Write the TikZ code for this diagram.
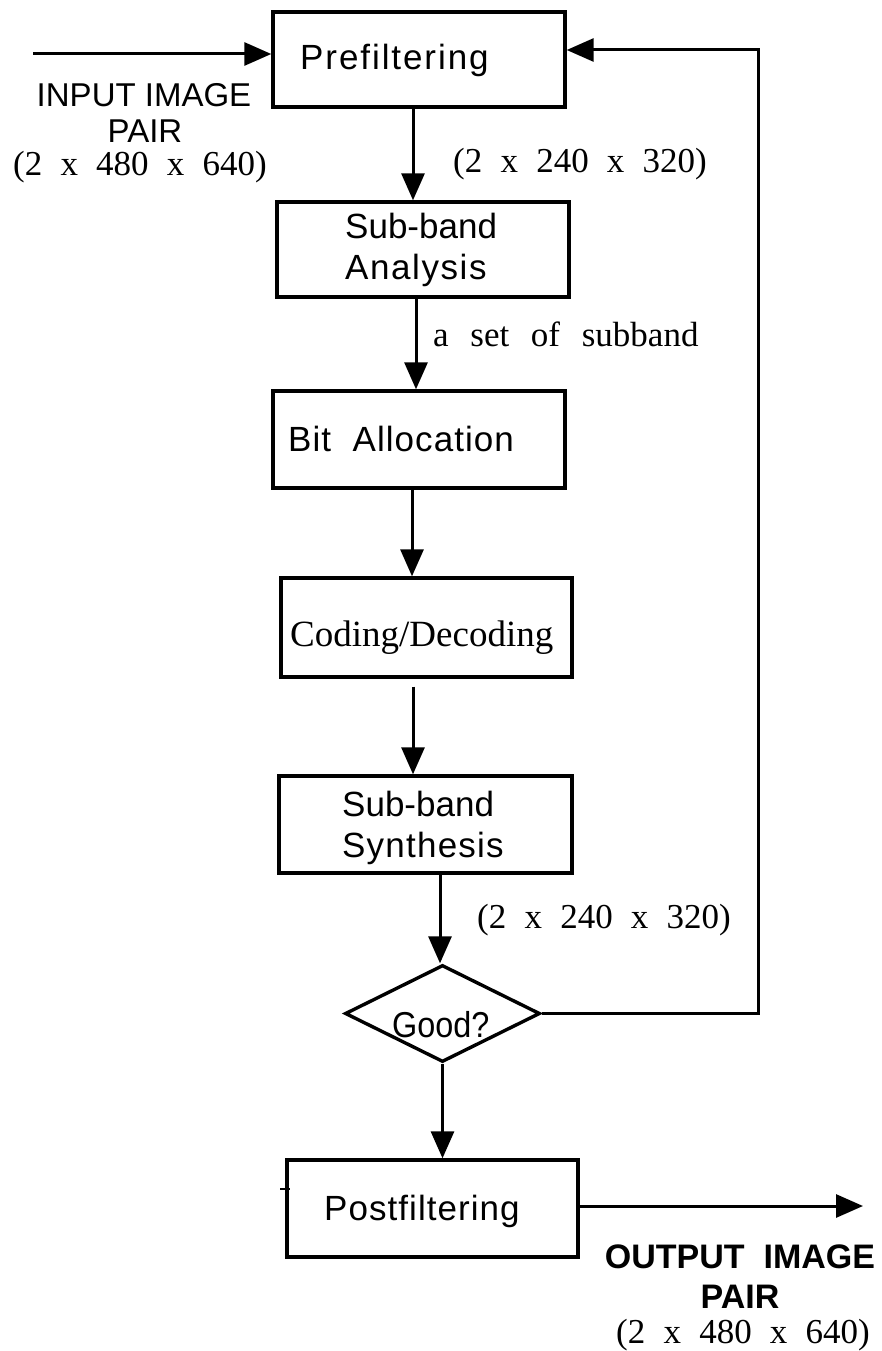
\documentclass[tikz,border=0pt]{standalone}
\usepackage{fontspec}
\setmainfont{Liberation Serif}
\setsansfont{Liberation Sans}
\newfontfamily\narrowsans{Liberation Sans}[FakeStretch=0.9]
\usetikzlibrary{arrows.meta,shapes.geometric}

% image size triple with the wide spacing used in the figure
\newcommand\dimtriple[3]{(#1\hspace{0.52em}x\hspace{0.52em}#2\hspace{0.52em}x\hspace{0.52em}#3)}
% spaced sans text: size, letter spacing
\newcommand\spacedsans[2]{\sffamily\fontsize{#1}{#1}\selectfont\addfontfeatures{LetterSpace=#2}}

\begin{document}
\begin{tikzpicture}[x=1pt,y=-1pt,
  blk/.style={draw, line width=3.4pt, rectangle, inner sep=0pt},
  dec/.style={draw, line width=3.4pt, diamond, inner sep=0pt},
  flow/.style={line width=3pt, -{Triangle[length=27pt,width=23pt]}},
  lab/.style={inner sep=0pt, anchor=base west},
  serifdim/.style={inner sep=0pt, font=\rmfamily\fontsize{35}{35}\selectfont},
  sidelab/.style={inner sep=0pt, anchor=base, font=\sffamily\fontsize{33}{33}\selectfont},
]
\useasboundingbox[fill=white] (0,0) rectangle (882,1351);

% blocks
\node[blk, minimum width=292pt, minimum height=95pt] (pre) at (419,59.5) {};
\node[blk, minimum width=292pt, minimum height=95pt] (ana) at (423,249.5) {};
\node[blk, minimum width=292pt, minimum height=97pt] (bit) at (419,439.5) {};
\node[blk, minimum width=291pt, minimum height=99pt] (cod) at (426.5,627.5) {};
\node[blk, minimum width=293pt, minimum height=97pt] (syn) at (425.5,824.5) {};
\node[dec, minimum width=195pt, minimum height=97pt] (good) at (442.5,1013.5) {};
\node[blk, minimum width=291pt, minimum height=97pt] (post) at (432.5,1208.5) {};

% block texts
\node[lab, font=\spacedsans{35}{5.5}] (tpre) at (300,70) {Prefiltering};
\node[lab, font=\spacedsans{35}{0}] (tana1) at (345,238) {Sub-band};
\node[lab, font=\spacedsans{35}{4.5}] (tana2) at (345,279) {Analysis};
\node[lab, font=\spacedsans{35}{3}] (tbit) at (288,451) {Bit\ \ Allocation};
\node[lab, font=\rmfamily\fontsize{37}{37}\selectfont] (tcod) at (290,646) {Coding/Decoding};
\node[lab, font=\spacedsans{35}{0}] (tsyn1) at (342,816) {Sub-band};
\node[lab, font=\spacedsans{35}{3.5}] (tsyn2) at (342,857) {Synthesis};
\node[lab, font=\narrowsans\fontsize{36}{36}\selectfont] (tgood) at (392,1037) {Good?};
\node[lab, font=\spacedsans{35}{3}] (tpost) at (324,1220) {Postfiltering};

% input side
\coordinate (inp) at (33,54);
\draw[flow] (inp) -- (inp -| pre.west);
\node[sidelab] (in1) at (144,107) {INPUT IMAGE};
\node[sidelab] (in2) at (145,143) {PAIR};
\node[serifdim, anchor=base] (in3) at (140,176) {\dimtriple{2}{480}{640}};

% main chain
\draw[flow] ([xshift=-6pt]pre.south) -- ([xshift=-6pt]pre.south |- ana.north);
\node[serifdim, anchor=base west] (d1) at (453,173) {\dimtriple{2}{240}{320}};
\draw[flow] ([xshift=-7pt]ana.south) -- ([xshift=-7pt]ana.south |- bit.north);
\node[lab, font=\rmfamily\fontsize{35}{35}\selectfont] (d2) at (433,346)
  {a\hspace{0.62em}set\hspace{0.62em}of\hspace{0.62em}subband};
\draw[flow] ([xshift=-7pt]bit.south) -- ([xshift=-7pt]bit.south |- cod.north);
\draw[flow] ([xshift=-13.5pt,yshift=-8pt]cod.south) -- ([xshift=-13.5pt]cod.south |- syn.north);
\draw[flow] ([xshift=14.5pt]syn.south) -- ([xshift=14.5pt]syn.south |- good.north);
\node[serifdim, anchor=base west] (d3) at (477,928) {\dimtriple{2}{240}{320}};
\draw[flow] (good.south) -- (good.south |- post.north);

% feedback loop back to prefiltering
\coordinate (fbtop) at (758,50);
\draw[flow] (good.east) -- (good.east -| fbtop) -- (fbtop) -- (fbtop -| pre.east);

% small mark on the left edge of postfiltering
\coordinate (stub) at (280,1189);
\draw[line width=2.2pt] (stub) -- ([xshift=5pt]stub -| post.west);

% output side
\coordinate (outp) at (863,1206);
\draw[flow] (outp -| post.east) -- (outp);
\node[inner sep=0pt, anchor=base, font=\sffamily\bfseries\fontsize{34}{34}\selectfont] (out1) at (740,1268) {OUTPUT\ \ IMAGE};
\node[inner sep=0pt, anchor=base, font=\sffamily\bfseries\fontsize{34}{34}\selectfont] (out2) at (740,1308) {PAIR};
\node[serifdim, anchor=base] (out3) at (743,1343) {\dimtriple{2}{480}{640}};
\end{tikzpicture}
\end{document}
